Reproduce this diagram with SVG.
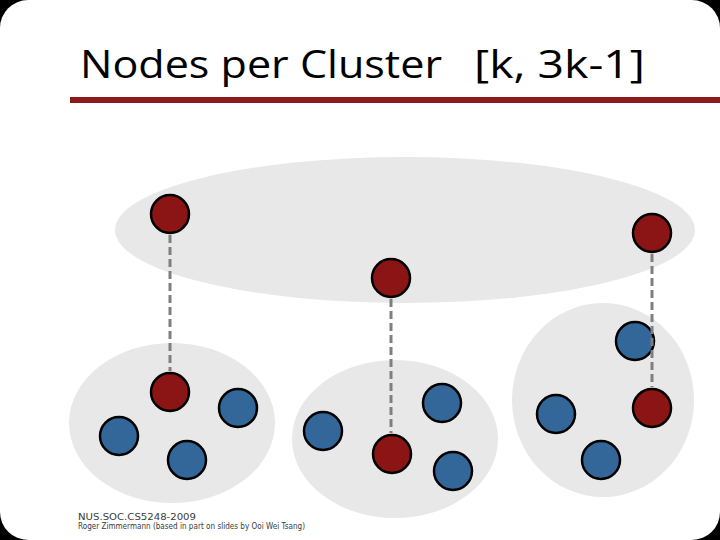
<svg xmlns="http://www.w3.org/2000/svg" width="720" height="540" viewBox="0 0 720 540">
<style>
.title{font-family:"Open Sans","DejaVu Sans",sans-serif;font-size:39px;fill:#000}
.foot{font-family:"DejaVu Sans","Liberation Sans",sans-serif;font-size:8px;fill:#3a3a3a}
.cl{fill:#e8e8e8}
.red{fill:#8b1414;stroke:#000;stroke-width:2.5}
.blue{fill:#336699;stroke:#000;stroke-width:2.5}
.dash{stroke:#7f7f7f;stroke-width:3;stroke-dasharray:8,4;fill:none}
</style>
<rect x="0" y="0" width="720" height="540" fill="#000"/>
<rect x="0" y="0" width="720" height="540" rx="28" ry="28" fill="#fff"/>
<text class="title" x="80" y="78" textLength="362" lengthAdjust="spacingAndGlyphs">Nodes per Cluster</text>
<text class="title" x="474" y="78" textLength="171" lengthAdjust="spacingAndGlyphs">[k, 3k-1]</text>
<rect x="70" y="97" width="650" height="6" fill="#8b1a1a"/>
<g id="clusters">
<ellipse id="cluster-top" class="cl" cx="405" cy="230" rx="290" ry="73"/>
<ellipse id="cluster-left" class="cl" cx="172" cy="423" rx="103" ry="80"/>
<ellipse id="cluster-mid" class="cl" cx="395" cy="439" rx="103" ry="79"/>
<ellipse id="cluster-right" class="cl" cx="603" cy="400" rx="91" ry="97"/>
</g>
<g id="n1"><circle class="red" cx="170" cy="214" r="19"/></g>
<g id="n2"><circle class="red" cx="391" cy="278" r="19"/></g>
<g id="n3"><circle class="red" cx="652" cy="233" r="19"/></g>
<g id="n4"><circle class="red" cx="170" cy="392" r="19"/></g>
<g id="n5"><circle class="blue" cx="238" cy="408" r="19"/></g>
<g id="n6"><circle class="blue" cx="119" cy="436" r="19"/></g>
<g id="n7"><circle class="blue" cx="187" cy="460" r="19"/></g>
<g id="n8"><circle class="blue" cx="323" cy="431" r="19"/></g>
<g id="n9"><circle class="blue" cx="442" cy="403" r="19"/></g>
<g id="n10"><circle class="red" cx="392" cy="454" r="19"/></g>
<g id="n11"><circle class="blue" cx="453" cy="471" r="19"/></g>
<g id="n12"><circle class="blue" cx="635" cy="341" r="19"/></g>
<g id="n13"><circle class="red" cx="652" cy="408" r="19"/></g>
<g id="n14"><circle class="blue" cx="556" cy="414" r="19"/></g>
<g id="n15"><circle class="blue" cx="601" cy="460" r="19"/></g>
<g id="connectors">
<line class="dash" x1="170" y1="235" x2="170" y2="371"/>
<line class="dash" x1="391" y1="299" x2="391" y2="433"/>
<line class="dash" x1="652" y1="254" x2="652" y2="387"/>
</g>
<text class="foot" x="78" y="520" textLength="118" lengthAdjust="spacingAndGlyphs">NUS.SOC.CS5248-2009</text>
<text class="foot" x="78" y="529" textLength="227" lengthAdjust="spacingAndGlyphs">Roger Zimmermann (based in part on slides by Ooi Wei Tsang)</text>
</svg>
